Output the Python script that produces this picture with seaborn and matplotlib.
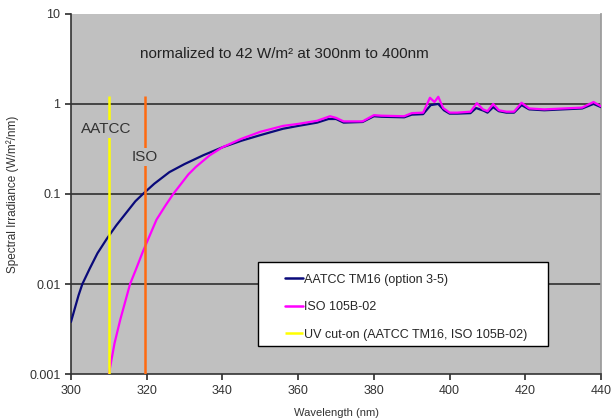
import numpy as np
import pandas as pd
import matplotlib
matplotlib.use('Agg')
import matplotlib.pyplot as plt
from matplotlib.patches import Rectangle
import seaborn as sns

# AATCC TM16 (option 3-5) curve
aatcc_nm = [300, 302, 303, 305, 307, 309.5, 312, 315, 317, 319, 322, 326, 330, 335, 340,
            345, 350, 356, 360, 365, 368, 370, 372, 377, 380, 382, 388, 390, 393, 395,
            397, 398.5, 400, 402, 405.5, 407, 409, 410, 411.5, 413, 415, 417, 419, 421,
            425, 430, 435, 438, 440]
aatcc_val = [0.0038, 0.0075, 0.01, 0.015, 0.022, 0.032, 0.045, 0.065, 0.083, 0.1, 0.13,
             0.175, 0.215, 0.27, 0.33, 0.39, 0.45, 0.53, 0.57, 0.62, 0.68, 0.68, 0.62,
             0.63, 0.73, 0.72, 0.71, 0.76, 0.77, 0.97, 1.0, 0.85, 0.78, 0.78, 0.79, 0.9,
             0.84, 0.8, 0.92, 0.83, 0.8, 0.8, 0.97, 0.87, 0.85, 0.87, 0.89, 1.0, 0.92]

# ISO 105B-02 curve
iso_nm = [310, 311.5, 313, 315.6, 317, 319, 322.6, 325, 327, 331, 333, 336.7, 340, 345,
          350, 356, 360, 365, 368.4, 370, 372, 377, 380, 382, 388, 390, 393, 394.8, 396,
          397, 398.3, 400, 402, 405.5, 407.2, 408.8, 410, 411.5, 413, 415, 417, 419, 421,
          425, 430, 435, 438, 440]
iso_val = [0.001, 0.0022, 0.004, 0.01, 0.014, 0.023, 0.052, 0.075, 0.1, 0.165, 0.2, 0.27,
           0.33, 0.41, 0.49, 0.57, 0.6, 0.65, 0.73, 0.7, 0.64, 0.64, 0.75, 0.74, 0.73,
           0.79, 0.8, 1.17, 1.05, 1.2, 0.9, 0.8, 0.8, 0.82, 1.02, 0.87, 0.83, 1.0, 0.85,
           0.82, 0.82, 1.03, 0.89, 0.87, 0.89, 0.91, 1.05, 0.94]

series_names = ['AATCC TM16 (option 3-5)', 'ISO 105B-02']
cuton_aatcc = 310
cuton_iso = 319.5
cuton_top = 1.23
x_ticks = [300, 320, 340, 360, 380, 400, 420, 440]
y_ticks = [0.001, 0.01, 0.1, 1, 10]
y_labels = ['0.001', '0.01', '0.1', '1', '10']

df = pd.concat([
    pd.DataFrame({'nm': aatcc_nm, 'val': aatcc_val, 'series': series_names[0]}),
    pd.DataFrame({'nm': iso_nm, 'val': iso_val, 'series': series_names[1]}),
])

sns.set_theme(style='ticks', rc={'axes.facecolor': '#C0C0C0'})
plt.rcParams['font.family'] = ['Liberation Sans', 'DejaVu Sans']

fig = plt.figure(figsize=(6.15, 4.19), dpi=100)
ax = fig.add_axes([0.1154, 0.107, 0.862, 0.86])

for y in [0.01, 0.1, 1]:
    ax.axhline(y, color='#3a3a3a', lw=1.3, zorder=1)

sns.lineplot(data=df, x='nm', y='val', hue='series', hue_order=series_names,
             palette=['#0A0A7A', '#FF00FF'], lw=1.6, ax=ax, zorder=3, sort=False)

ax.vlines(cuton_aatcc, 0.001, cuton_top, color='#FFFF00', lw=1.8, zorder=4,
          label='UV cut-on (AATCC TM16, ISO 105B-02)')
ax.vlines(cuton_iso, 0.001, cuton_top, color='#FF6A10', lw=1.8, zorder=4)

ax.set_yscale('log')
ax.set_xlim(300, 440)
ax.set_ylim(0.001, 10)
ax.set_xticks(x_ticks)
ax.set_yticks(y_ticks)
ax.set_yticklabels(y_labels)
ax.minorticks_off()
ax.tick_params(labelsize=9, labelcolor='#333333', length=4, color='#333333')

for side in ['left', 'bottom']:
    ax.spines[side].set_color('#333333')
    ax.spines[side].set_linewidth(1.2)
ax.spines['top'].set_visible(False)
ax.spines['right'].set_color('#9a9a9a')

ax.set_xlabel('Wavelength (nm)', fontsize=8, color='#333333', labelpad=8)
ax.set_ylabel('Spectral Irradiance (W/m²/nm)', fontsize=8.5, color='#333333', labelpad=7)

ax.text(0.402, 0.889, 'normalized to 42 W/m² at 300nm to 400nm', transform=ax.transAxes,
        ha='center', va='center', fontsize=11, color='#222222')
box = dict(facecolor='#C0C0C0', edgecolor='none', pad=1.5)
ax.text(0.067, 0.68, 'AATCC', transform=ax.transAxes, ha='center', va='center',
        fontsize=11, color='#333333', bbox=box, zorder=5)
ax.text(0.139, 0.603, 'ISO', transform=ax.transAxes, ha='center', va='center',
        fontsize=11, color='#333333', bbox=box, zorder=5)

# legend frame drawn separately so the entries can sit indented like the original
ax.add_patch(Rectangle((0.353, 0.078), 0.547, 0.233, transform=ax.transAxes,
                       facecolor='white', edgecolor='black', lw=1.0, zorder=6))
leg = ax.legend(loc='center left', bbox_to_anchor=(0.404, 0.186), borderaxespad=0,
                fontsize=9, frameon=False, handlelength=1.4, handletextpad=0.1,
                labelspacing=1.25, borderpad=0)
leg.set_zorder(7)
for line in leg.get_lines():
    line.set_linewidth(1.8)

fig.savefig('out.png', dpi=100)
